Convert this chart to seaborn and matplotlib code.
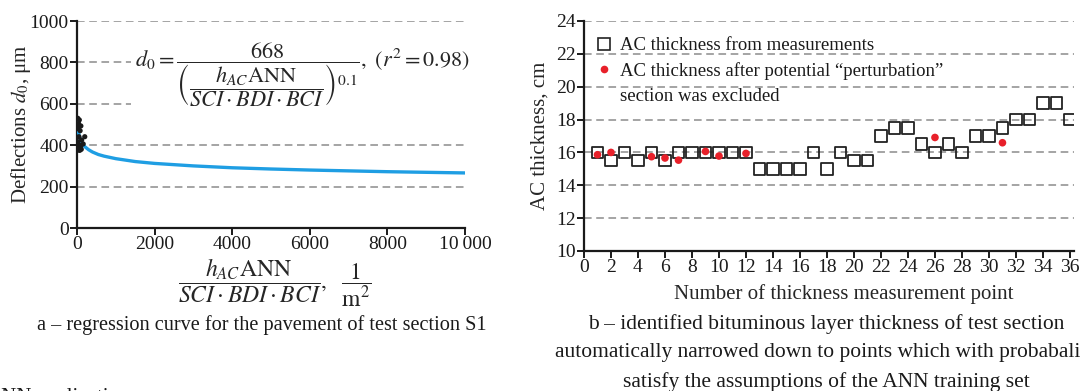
import matplotlib
matplotlib.use("Agg")
import matplotlib.pyplot as plt
import seaborn as sns
import pandas as pd
from matplotlib.ticker import FuncFormatter
from matplotlib.lines import Line2D

# ---------------- data: panel a ----------------
curve_x = [15, 20, 30, 50, 75, 100, 150, 200, 300, 400, 550, 700, 1000, 1500,
           2000, 3000, 4000, 5000, 6000, 7000, 8000, 9000, 10000]
curve_y = [510, 495, 475, 452, 434, 421, 405, 393, 378, 367, 355, 347, 335, 321,
           312, 300, 291, 285, 280, 276, 272, 269, 266]
meas_x = [20, 60, 40, 100, 30, 80, 50, 120, 20, 60, 90, 40, 160, 200, 10, 110, 70, 30]
meas_y = [530, 522, 505, 493, 480, 470, 441, 425, 417, 401, 393, 377, 406, 441, 385, 380, 375, 490]
a_xticks = [0, 2000, 4000, 6000, 8000, 10000]
a_yticks = [0, 200, 400, 600, 800, 1000]

# ---------------- data: panel b ----------------
pt_all = list(range(1, 37))
thk_all = [16, 15.5, 16, 15.5, 16, 15.5, 16, 16, 16, 16, 16, 16,
           15, 15, 15, 15, 16, 15, 16, 15.5, 15.5, 17, 17.5, 17.5,
           16.5, 16, 16.5, 16, 17, 17, 17.5, 18, 18, 19, 19, 18]
pt_sel = [1, 2, 5, 6, 7, 9, 10, 12, 26, 31]
thk_sel = [15.86, 16.0, 15.74, 15.66, 15.53, 16.06, 15.78, 15.94, 16.91, 16.59]
b_xticks = list(range(0, 37, 2))
b_yticks = list(range(10, 25, 2))

sns.set_theme(style="white")
plt.rcParams["font.family"] = ["Liberation Serif", "DejaVu Serif"]
plt.rcParams["mathtext.fontset"] = "stix"
plt.rcParams["axes.unicode_minus"] = False

FS = 14
fig = plt.figure(figsize=(10.8, 3.91), dpi=100)

grid_kw = dict(color="#8c8c8c", linestyle=(0, (5, 3)), linewidth=1.1)

def style_axes(ax):
    for s in ["top", "right"]:
        ax.spines[s].set_visible(False)
    for s in ["left", "bottom"]:
        ax.spines[s].set_color("#1a1a1a")
        ax.spines[s].set_linewidth(1.6)
    ax.tick_params(direction="out", length=5, width=1.4, color="#1a1a1a",
                   labelsize=FS, labelcolor="#1a1a1a", pad=1,
                   left=True, bottom=True)
    ax.set_axisbelow(True)

# ---------------- panel a ----------------
axA = fig.add_axes([77 / 1080, 1 - 228 / 391, 388 / 1080, 207 / 391])
style_axes(axA)
dfc = pd.DataFrame({"x": curve_x, "y": curve_y})
sns.lineplot(data=dfc, x="x", y="y", ax=axA, color="#1f9ee3", linewidth=2.4,
             estimator=None, sort=True, zorder=3)
sns.scatterplot(x=meas_x, y=meas_y, ax=axA, color="#1a1a1a", s=14,
                edgecolor="none", zorder=4)
axA.set_xlim(0, 10000)
axA.set_ylim(0, 1000)
axA.set_xticks(a_xticks)
axA.set_yticks(a_yticks)
axA.xaxis.set_major_formatter(FuncFormatter(
    lambda v, p: f"{int(v):,}".replace(",", "\u2009") if v >= 10000 else f"{int(v)}"))
axA.yaxis.grid(True, **grid_kw)
axA.xaxis.grid(False)
axA.set_ylabel(r"Deflections $d_0$, μm", fontsize=15)
axA.yaxis.label.set_va("center")
axA.yaxis.set_label_coords(-0.145, 0.5)
axA.set_xlabel(r"$\dfrac{h_{AC}\mathrm{ANN}}{SCI\cdot BDI\cdot BCI},\ \ \dfrac{1}{\mathrm{m}^2}$",
               fontsize=17)
axA.xaxis.set_label_coords(0.51, -0.265)
axA.xaxis.label.set_va("center")
axA.text(0.15, 0.74,
         r"$d_0=\dfrac{668}{\left(\dfrac{h_{AC}\mathrm{ANN}}{SCI\cdot BDI\cdot BCI}\right)^{0.1}},\ \left(r^2=0.98\right)$",
         transform=axA.transAxes, fontsize=16, ha="left", va="center",
         bbox=dict(facecolor="white", edgecolor="none", pad=3), zorder=5)

fig.text(262 / 1080, 1 - 325 / 391,
         "a \u2013 regression curve for the pavement of test section S1",
         ha="center", va="center", fontsize=14.6, color="#1a1a1a")

# ---------------- panel b ----------------
axB = fig.add_axes([584 / 1080, 1 - 251 / 391, 490 / 1080, 230 / 391])
style_axes(axB)
sns.scatterplot(x=pt_all, y=thk_all, ax=axB, marker="s", s=70,
                facecolor="none", edgecolor="#222222", linewidth=1.3, zorder=3)
sns.scatterplot(x=pt_sel, y=thk_sel, ax=axB, marker="o", s=30,
                color="#e8202a", edgecolor="none", zorder=4)
axB.set_xlim(0, 36.3)
axB.set_ylim(10, 24)
axB.set_xticks(b_xticks)
axB.set_yticks(b_yticks)
axB.yaxis.grid(True, **grid_kw)
axB.xaxis.grid(False)
axB.set_ylabel("AC thickness, cm", fontsize=15)
axB.yaxis.label.set_va("center")
axB.yaxis.set_label_coords(-0.09, 0.5)
axB.set_xlabel("Number of thickness measurement point", fontsize=15)
axB.xaxis.set_label_coords(0.53, -0.185)
axB.xaxis.label.set_va("center")

h1 = Line2D([], [], marker="s", linestyle="none", markersize=8,
            markerfacecolor="none", markeredgecolor="#222222", markeredgewidth=1.2)
h2 = Line2D([], [], marker="o", linestyle="none", markersize=5.5,
            markerfacecolor="#e8202a", markeredgecolor="none")
h3 = Line2D([], [], linestyle="none")
leg = axB.legend([h1, h2, h3],
                 ["AC thickness from measurements",
                  "AC thickness after potential \u201cperturbation\u201d",
                  "section was excluded"],
                 loc="upper left", bbox_to_anchor=(0.025, 0.93), frameon=False,
                 fontsize=13.5, handlelength=0.8, handletextpad=0.45,
                 borderaxespad=0, borderpad=0, labelspacing=0.42)
for t in leg.get_texts():
    t.set_color("#1a1a1a")

fig.text(826 / 1080, 1 - 353 / 391,
         "b \u2013 identified bituminous layer thickness of test section\n"
         "automatically narrowed down to points which with probabality\n"
         "satisfy the assumptions of the ANN training set",
         ha="center", va="center", fontsize=15.5, color="#1a1a1a",
         linespacing=1.65, multialignment="center")

fig.text(-14 / 1080, 1 - 388 / 391, "ANN application", ha="left", va="top",
         fontsize=15, color="#1a1a1a")

fig.savefig("out.png", dpi=100)
